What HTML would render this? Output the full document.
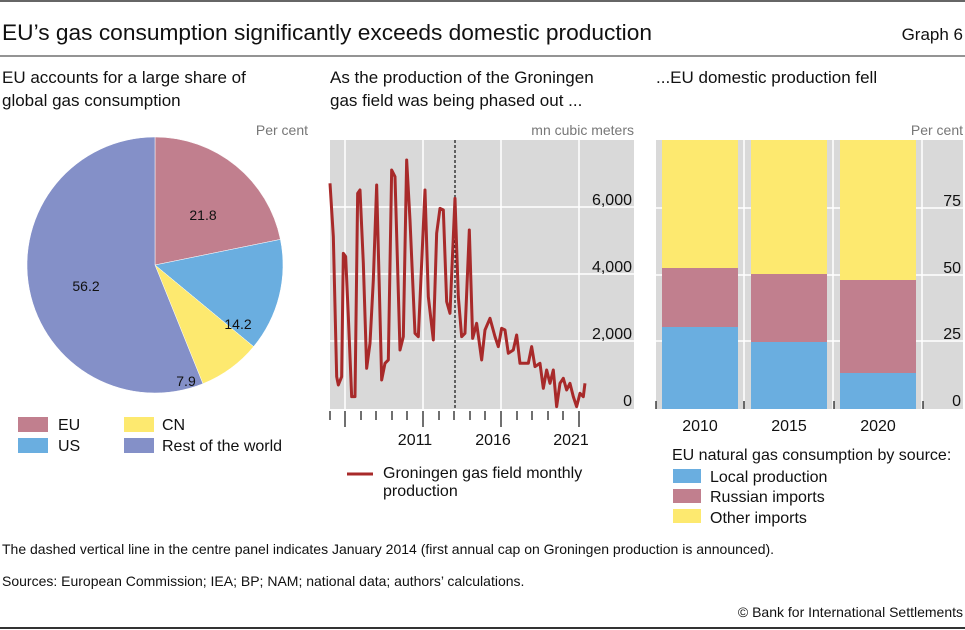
<!DOCTYPE html>
<html><head><meta charset="utf-8"><style>
html,body{margin:0;padding:0;background:#fff}
svg{display:block;font-family:"Liberation Sans",sans-serif}
</style></head><body>
<svg width="965" height="630" viewBox="0 0 965 630" xmlns="http://www.w3.org/2000/svg">
<rect width="965" height="630" fill="#fff"/>
<line x1="0" y1="1" x2="965" y2="1" stroke="#333" stroke-width="1.5"/>
<line x1="0" y1="56" x2="965" y2="56" stroke="#555" stroke-width="1.2"/>
<line x1="0" y1="628" x2="965" y2="628" stroke="#333" stroke-width="2"/>
<text x="2" y="40" font-size="22" fill="#111" textLength="650" lengthAdjust="spacingAndGlyphs">EU’s gas consumption significantly exceeds domestic production</text>
<text x="963" y="40" font-size="17" fill="#111" text-anchor="end">Graph 6</text>
<g font-size="17" fill="#111">
<text x="2" y="83">EU accounts for a large share of</text>
<text x="2" y="106">global gas consumption</text>
<text x="330" y="83">As the production of the Groningen</text>
<text x="330" y="106">gas field was being phased out ...</text>
<text x="656" y="83">...EU domestic production fell</text>
</g>
<g font-size="14" fill="#777" text-anchor="end">
<text x="308" y="135">Per cent</text>
<text x="634" y="135">mn cubic meters</text>
<text x="963" y="135">Per cent</text>
</g>
<!-- pie -->
<g stroke="#fff" stroke-width="0.5">
<path d="M155,265 L155,137 A128,128 0 0 1 280.4,239.4 Z" fill="#c17f8e"/>
<path d="M155,265 L280.4,239.4 A128,128 0 0 1 253.6,346.6 Z" fill="#6aaee0"/>
<path d="M155,265 L253.6,346.6 A128,128 0 0 1 202.9,383.7 Z" fill="#fde96f"/>
<path d="M155,265 L202.9,383.7 A128,128 0 1 1 155,137 Z" fill="#8490c8"/>
</g>
<g font-size="14" fill="#111" text-anchor="middle">
<text x="203" y="220">21.8</text><text x="238" y="329">14.2</text>
<text x="186" y="386">7.9</text><text x="86" y="291">56.2</text>
</g>
<g font-size="16" fill="#111">
<rect x="18" y="417" width="30" height="15" fill="#c17f8e"/><text x="58" y="430">EU</text>
<rect x="18" y="438" width="30" height="15" fill="#6aaee0"/><text x="58" y="451">US</text>
<rect x="124" y="417" width="30" height="15" fill="#fde96f"/><text x="162" y="430">CN</text>
<rect x="124" y="438" width="30" height="15" fill="#8490c8"/><text x="162" y="451">Rest of the world</text>
</g>
<!-- middle panel -->
<rect x="330" y="140" width="304" height="269" fill="#d9d9d9"/>
<g stroke="#fff" stroke-width="1.5">
<line x1="330" y1="207" x2="634" y2="207"/><line x1="330" y1="274" x2="634" y2="274"/><line x1="330" y1="341" x2="634" y2="341"/>
<line x1="345" y1="140" x2="345" y2="409"/><line x1="423" y1="140" x2="423" y2="409"/><line x1="501" y1="140" x2="501" y2="409"/><line x1="579" y1="140" x2="579" y2="409"/>
</g>
<line x1="455" y1="140" x2="455" y2="409" stroke="#111" stroke-width="1.2" stroke-dasharray="3,2"/>
<g transform="translate(325,130) scale(0.3333)">
<polyline fill="none" stroke="#a82a2a" stroke-width="9" stroke-linejoin="round" points="15,160 25,320 35,740 40,765 50,740 55,370 62,380 70,560 80,800 90,800 98,190 105,180 115,400 125,715 135,640 145,450 155,165 170,750 180,700 190,690 200,120 210,140 225,660 235,620 245,90 255,270 270,610 280,620 300,180 310,500 325,630 335,310 345,235 355,240 365,515 375,550 390,205 400,500 410,620 420,610 433,300 443,625 455,580 470,690 480,600 495,565 510,620 520,650 530,595 540,600 550,670 565,660 575,615 585,700 595,700 610,700 620,650 630,710 645,700 655,775 665,720 675,760 685,720 695,830 705,760 715,745 725,780 735,760 745,800 755,830 765,790 775,800 780,760"/>
</g>
<g font-size="16" fill="#111" text-anchor="end">
<text x="632" y="205">6,000</text><text x="632" y="272">4,000</text><text x="632" y="339">2,000</text><text x="632" y="406">0</text>
</g>
<g stroke="#111" stroke-width="1.2">
<line x1="330" y1="411" x2="330" y2="420"/><line x1="345" y1="411" x2="345" y2="427"/>
<line x1="361" y1="411" x2="361" y2="420"/><line x1="376" y1="411" x2="376" y2="420"/><line x1="392" y1="411" x2="392" y2="420"/><line x1="407" y1="411" x2="407" y2="420"/>
<line x1="423" y1="411" x2="423" y2="427"/><line x1="439" y1="411" x2="439" y2="420"/><line x1="454" y1="411" x2="454" y2="420"/><line x1="470" y1="411" x2="470" y2="420"/><line x1="485" y1="411" x2="485" y2="420"/>
<line x1="501" y1="411" x2="501" y2="427"/><line x1="517" y1="411" x2="517" y2="420"/><line x1="532" y1="411" x2="532" y2="420"/><line x1="548" y1="411" x2="548" y2="420"/><line x1="563" y1="411" x2="563" y2="420"/>
<line x1="579" y1="411" x2="579" y2="427"/>
</g>
<g font-size="16" fill="#111" text-anchor="middle">
<text x="415" y="445">2011</text><text x="493" y="445">2016</text><text x="571" y="445">2021</text>
</g>
<line x1="347" y1="474" x2="373" y2="474" stroke="#a82a2a" stroke-width="3"/>
<text x="383" y="478" font-size="16" fill="#111">Groningen gas field monthly</text>
<text x="383" y="496" font-size="16" fill="#111">production</text>
<!-- right panel -->
<rect x="656" y="140" width="307" height="269" fill="#d9d9d9"/>
<g stroke="#fff" stroke-width="1.5">
<line x1="656" y1="208" x2="963" y2="208"/><line x1="656" y1="275" x2="963" y2="275"/><line x1="656" y1="341" x2="963" y2="341"/>
<line x1="744" y1="140" x2="744" y2="409"/><line x1="833" y1="140" x2="833" y2="409"/><line x1="922" y1="140" x2="922" y2="409"/>
</g>
<rect x="662" y="140" width="76" height="269" fill="#fde96f"/>
<rect x="662" y="268" width="76" height="59" fill="#c17f8e"/>
<rect x="662" y="327" width="76" height="82" fill="#6aaee0"/>
<rect x="751" y="140" width="76" height="269" fill="#fde96f"/>
<rect x="751" y="274" width="76" height="68" fill="#c17f8e"/>
<rect x="751" y="342" width="76" height="67" fill="#6aaee0"/>
<rect x="840" y="140" width="76" height="269" fill="#fde96f"/>
<rect x="840" y="280" width="76" height="93" fill="#c17f8e"/>
<rect x="840" y="373" width="76" height="36" fill="#6aaee0"/>
<g font-size="16" fill="#111" text-anchor="end">
<text x="961" y="206">75</text><text x="961" y="273">50</text><text x="961" y="339">25</text><text x="961" y="406">0</text>
</g>
<g stroke="#111" stroke-width="1.2">
<line x1="656" y1="401" x2="656" y2="409"/><line x1="744" y1="401" x2="744" y2="409"/><line x1="834" y1="401" x2="834" y2="409"/><line x1="923" y1="401" x2="923" y2="409"/>
</g>
<g font-size="16" fill="#111" text-anchor="middle">
<text x="700" y="431">2010</text><text x="789" y="431">2015</text><text x="878" y="431">2020</text>
</g>
<g font-size="16" fill="#111">
<text x="672" y="460">EU natural gas consumption by source:</text>
<rect x="673" y="469" width="28" height="14" fill="#6aaee0"/><text x="710" y="482">Local production</text>
<rect x="673" y="489" width="28" height="14" fill="#c17f8e"/><text x="710" y="502">Russian imports</text>
<rect x="673" y="509" width="28" height="14" fill="#fde96f"/><text x="710" y="523">Other imports</text>
</g>
<g font-size="14" fill="#111">
<text x="2" y="554">The dashed vertical line in the centre panel indicates January 2014 (first annual cap on Groningen production is announced).</text>
<text x="2" y="586">Sources: European Commission; IEA; BP; NAM; national data; authors’ calculations.</text>
<text x="963" y="617" text-anchor="end">© Bank for International Settlements</text>
</g>
</svg>
</body></html>
